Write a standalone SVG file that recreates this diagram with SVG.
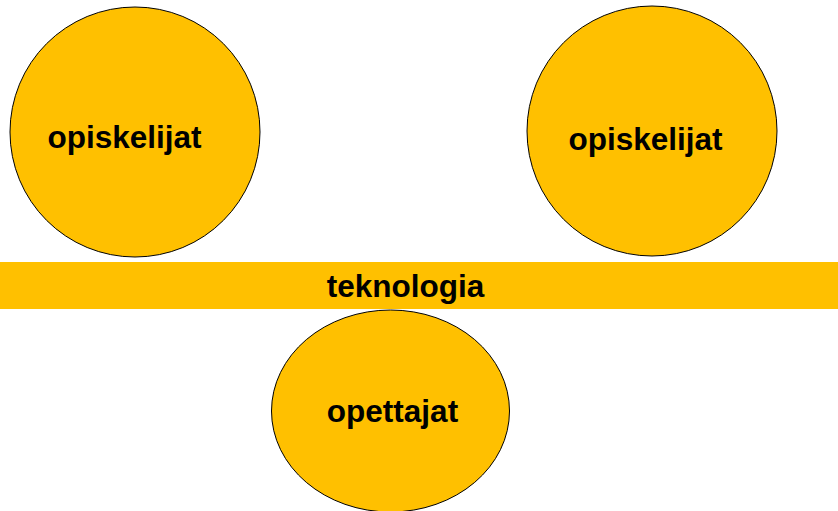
<svg xmlns="http://www.w3.org/2000/svg" width="838" height="511" viewBox="0 0 838 511">
<style>
.n{fill:#FFC000;stroke:#000;stroke-width:1}
.t{font-family:"Liberation Sans",Arial,sans-serif;font-weight:bold;font-size:31.5px;fill:#000;text-anchor:middle}
</style>
<rect width="838" height="511" fill="#fff"/>
<g id="opiskelijat1"><circle class="n" cx="135" cy="132" r="125"/><text class="t" x="124.5" y="148">opiskelijat</text></g>
<g id="opiskelijat2"><circle class="n" cx="652" cy="131" r="125"/><text class="t" x="645.5" y="150">opiskelijat</text></g>
<g id="teknologia"><rect x="0" y="262" width="838" height="47" fill="#FFC000"/><text class="t" x="405.5" y="297">teknologia</text></g>
<g id="opettajat"><ellipse class="n" cx="390.5" cy="411" rx="119" ry="101"/><text class="t" x="392.5" y="422">opettajat</text></g>
<g id="connectors"/>
</svg>
